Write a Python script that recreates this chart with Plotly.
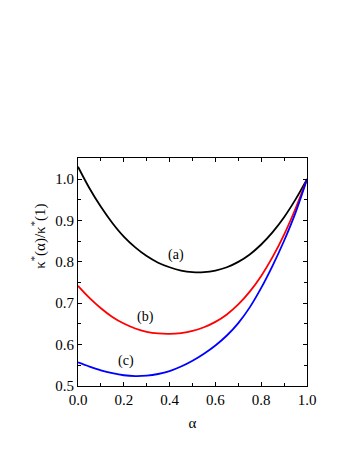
import plotly.graph_objects as go

alpha = [0.00, 0.05, 0.10, 0.15, 0.20, 0.25, 0.30, 0.35, 0.40, 0.45, 0.50,
         0.55, 0.60, 0.65, 0.70, 0.75, 0.80, 0.85, 0.90, 0.95, 1.00]
curve_a = [1.030, 0.978, 0.933, 0.894, 0.861, 0.835, 0.814, 0.798, 0.787, 0.779, 0.775,
           0.775, 0.779, 0.787, 0.800, 0.818, 0.842, 0.872, 0.908, 0.951, 1.000]
curve_b = [0.742, 0.713, 0.688, 0.667, 0.651, 0.639, 0.631, 0.627, 0.626, 0.628, 0.633,
           0.642, 0.655, 0.673, 0.697, 0.728, 0.766, 0.812, 0.866, 0.929, 1.000]
curve_c = [0.557, 0.547, 0.538, 0.531, 0.526, 0.524, 0.525, 0.529, 0.536, 0.547, 0.561,
           0.578, 0.598, 0.622, 0.652, 0.690, 0.737, 0.791, 0.851, 0.919, 1.000]

labels = ["(a)", "(b)", "(c)"]
label_x = [0.43, 0.296, 0.211]
label_y = [0.816, 0.667, 0.561]

x_title = "α"
y_title = "κ<sup>*</sup>(α)/κ<sup>*</sup>(1)"

FONT = "Times New Roman, Liberation Serif, serif"

fig = go.Figure()
for ys, col in [(curve_a, "black"), (curve_b, "red"), (curve_c, "blue")]:
    fig.add_trace(go.Scatter(x=alpha, y=ys, mode="lines",
                             line=dict(color=col, width=1.8, shape="spline", smoothing=1.0),
                             showlegend=False))

for t, lx, ly in zip(labels, label_x, label_y):
    fig.add_annotation(x=lx, y=ly, text=t, showarrow=False,
                       font=dict(family=FONT, size=14, color="black"))

# y-axis title placed as in the reference (above the axis centre)
fig.add_annotation(xref="paper", yref="paper", x=-0.17, y=0.655, text=y_title,
                   textangle=-90, showarrow=False, xanchor="center", yanchor="middle",
                   font=dict(family=FONT, size=15, color="black"))

axis_common = dict(showline=True, linecolor="black", linewidth=1, mirror="ticks",
                   ticks="inside", ticklen=4, tickcolor="black", showgrid=False,
                   zeroline=False, tickfont=dict(family=FONT, size=15, color="black"))

fig.update_xaxes(range=[0, 1.0], dtick=0.2, tick0=0, tickformat=".1f",
                 minor=dict(dtick=0.1, ticks="inside", ticklen=3, tickcolor="black"),
                 title=dict(text=x_title, font=dict(family=FONT, size=15, color="black"), standoff=10),
                 **axis_common)
fig.update_yaxes(range=[0.5, 1.051], dtick=0.1, tick0=0.5, tickformat=".1f",
                 minor=dict(dtick=0.05, ticks="inside", ticklen=3, tickcolor="black"),
                 **axis_common)

fig.update_layout(width=345, height=449, margin=dict(l=70, r=46, t=150, b=71),
                  plot_bgcolor="white", paper_bgcolor="white",
                  font=dict(family=FONT, color="black"))

fig.write_html("out.html")
